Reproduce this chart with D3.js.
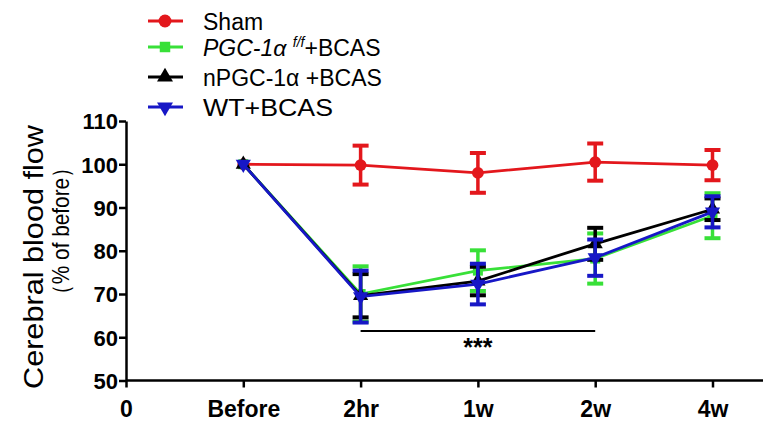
<!DOCTYPE html>
<html>
<head>
<meta charset="utf-8">
<script src="https://cdn.jsdelivr.net/npm/d3@7"></script>
<style>
  body { margin: 0; background: #fff; }
  svg { font-family: Arial, "Liberation Sans", sans-serif; }
</style>
</head>
<body>
<svg id="viz" width="763" height="421"></svg>
<script>
var width = 763, height = 421

// tick labels on the x axis, first one is the "0" origin
var categories = ['0', 'Before', '2hr', '1w', '2w', '4w']
var timepoints = ['Before', '2hr', '1w', '2w', '4w']
var yTicks = [50, 60, 70, 80, 90, 100, 110]

// mean and error (% of before)
var shamMean = [100, 99.8, 98.0, 100.5, 99.8]
var shamErr = [0, 4.5, 4.6, 4.3, 3.5]
var pgcMean = [100, 70.0, 75.4, 78.2, 88.1]
var pgcErr = [0, 6.4, 4.7, 5.8, 5.2]
var npgcMean = [100, 69.6, 73.0, 81.6, 89.6]
var npgcErr = [0, 5.0, 3.3, 3.7, 2.5]
var wtMean = [100, 69.4, 72.3, 78.4, 89.0]
var wtErr = [0, 6.0, 4.7, 4.2, 3.6]

var series = [
  {name: 'Sham', color: '#e3171c', symbol: 'circle', mean: shamMean, err: shamErr},
  {name: 'PGC', color: '#38e038', symbol: 'square', mean: pgcMean, err: pgcErr},
  {name: 'nPGC', color: '#000000', symbol: 'up', mean: npgcMean, err: npgcErr},
  {name: 'WT', color: '#1717c6', symbol: 'down', mean: wtMean, err: wtErr}
]

var svg = d3.select('svg#viz')

var x = d3.scalePoint().domain(categories).range([126, 712.5])
var y = d3.scaleLinear().domain([50, 110]).range([380.5, 121])

// axes
var xAxis = svg.append('g')
  .attr('transform', 'translate(0,380.5)')
  .call(d3.axisBottom(x).tickSize(7).tickSizeOuter(0))
xAxis.select('.domain').attr('d', 'M126,0H763')
xAxis.selectAll('path, line').attr('stroke', '#000').attr('stroke-width', 2.5)
xAxis.selectAll('text')
  .attr('dy', null).attr('y', 36)
  .style('font-size', '23px').style('font-weight', 'bold').attr('fill', '#000')

var yAxis = svg.append('g')
  .attr('transform', 'translate(126,0)')
  .call(d3.axisLeft(y).tickValues(yTicks).tickSize(7).tickSizeOuter(0))
yAxis.selectAll('path, line').attr('stroke', '#000').attr('stroke-width', 2.5)
yAxis.selectAll('text')
  .attr('x', -8).attr('dy', '0.36em')
  .style('font-size', '22px').style('font-weight', 'bold').attr('fill', '#000')

// y axis title, two lines
svg.append('text')
  .attr('transform', 'translate(43,257) rotate(-90)')
  .attr('text-anchor', 'middle')
  .attr('textLength', 264).attr('lengthAdjust', 'spacingAndGlyphs')
  .style('font-size', '28px')
  .text('Cerebral blood flow')
svg.append('text')
  .attr('transform', 'translate(69,231) rotate(-90)')
  .attr('text-anchor', 'middle')
  .attr('textLength', 148).attr('lengthAdjust', 'spacingAndGlyphs')
  .style('font-size', '24px')
  .text('（% of before）')

function symbolPath(kind, size) {
  var t = kind == 'circle' ? d3.symbolCircle : kind == 'square' ? d3.symbolSquare : d3.symbolTriangle
  return d3.symbol().type(t).size(size)()
}

function markerTransform(kind, cx, cy) {
  if (kind == 'down') return 'translate(' + cx + ',' + cy + ') rotate(180)'
  return 'translate(' + cx + ',' + cy + ')'
}

var line = d3.line()
  .x(function(d) { return x(d.t) })
  .y(function(d) { return y(d.v) })

series.forEach(function(s) {
  var pts = timepoints.map(function(t, i) { return {t: t, v: s.mean[i], e: s.err[i]} })
  var g = svg.append('g')

  g.append('path')
    .datum(pts)
    .attr('d', line)
    .attr('fill', 'none')
    .attr('stroke', s.color)
    .attr('stroke-width', 2.8)

  var eb = g.selectAll('.eb').data(pts.filter(function(d) { return d.e > 0 }))
    .enter().append('g')
  eb.append('line')
    .attr('x1', function(d) { return x(d.t) }).attr('x2', function(d) { return x(d.t) })
    .attr('y1', function(d) { return y(d.v + d.e) }).attr('y2', function(d) { return y(d.v - d.e) })
    .attr('stroke', s.color).attr('stroke-width', 3.5)
  ;[1, -1].forEach(function(sign) {
    eb.append('line')
      .attr('x1', function(d) { return x(d.t) - 8 }).attr('x2', function(d) { return x(d.t) + 8 })
      .attr('y1', function(d) { return y(d.v + sign * d.e) }).attr('y2', function(d) { return y(d.v + sign * d.e) })
      .attr('stroke', s.color).attr('stroke-width', 4)
  })

  g.selectAll('.mk').data(pts).enter().append('path')
    .attr('d', symbolPath(s.symbol, s.symbol == 'circle' ? 110 : 100))
    .attr('transform', function(d) { return markerTransform(s.symbol, x(d.t), y(d.v)) })
    .attr('fill', s.color)
})

// significance bar
svg.append('line')
  .attr('x1', x('2hr')).attr('x2', x('2w'))
  .attr('y1', 331).attr('y2', 331)
  .attr('stroke', '#000').attr('stroke-width', 1.8)
svg.append('text')
  .attr('x', (x('2hr') + x('2w')) / 2).attr('y', 356)
  .attr('text-anchor', 'middle')
  .style('font-size', '25px').style('font-weight', 'bold')
  .text('***')

// legend
var legendY = [21, 47, 77, 107]
var legend = svg.append('g')
series.forEach(function(s, i) {
  var row = legend.append('g').attr('transform', 'translate(0,' + legendY[i] + ')')
  row.append('line').attr('x1', 148).attr('x2', 183)
    .attr('stroke', s.color).attr('stroke-width', 3)
  row.append('path')
    .attr('d', symbolPath(s.symbol, s.symbol == 'circle' ? 130 : 110))
    .attr('transform', markerTransform(s.symbol, 165, 0))
    .attr('fill', s.color)
  var txt = row.append('text').attr('x', 203).attr('y', 8.5).style('font-size', '23px')
  if (s.name == 'Sham') txt.text('Sham')
  if (s.name == 'PGC') {
    txt.append('tspan').style('font-style', 'italic').text('PGC-1α ')
    txt.append('tspan').style('font-style', 'italic').style('font-size', '14px').attr('dy', -9).text('f/f')
    txt.append('tspan').attr('dy', 9).text('+BCAS')
  }
  if (s.name == 'nPGC') txt.text('nPGC-1α +BCAS')
  if (s.name == 'WT') txt.attr('textLength', 130).attr('lengthAdjust', 'spacingAndGlyphs').text('WT+BCAS')
})
</script>
</body>
</html>
